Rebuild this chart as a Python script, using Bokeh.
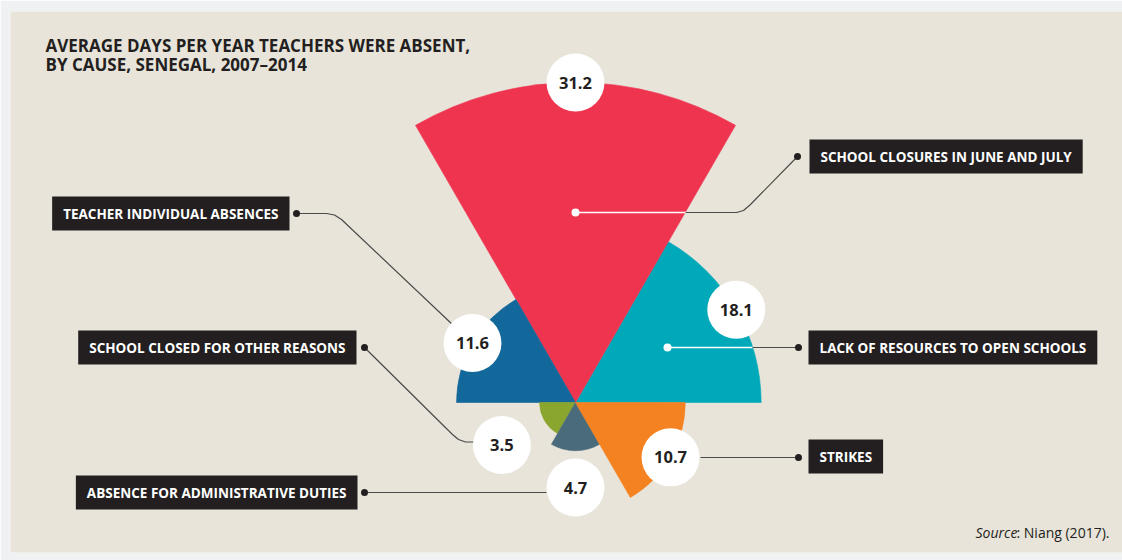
import math
from bokeh.plotting import figure
from bokeh.models import Range1d, Label, ColumnDataSource
from bokeh.embed import file_html
from bokeh.resources import INLINE
from bokeh.core.properties import value

# ---------------- data ----------------
categories = [
    "Lack of resources to open schools",
    "School closures in June and July",
    "Teacher individual absences",
    "School closed for other reasons",
    "Absence for administrative duties",
    "Strikes",
]
days = [18.1, 31.2, 11.6, 3.5, 4.7, 10.7]
value_labels = ["18.1", "31.2", "11.6", "3.5", "4.7", "10.7"]
colors = ["#00a9b9", "#ef3450", "#12679b", "#8ba62f", "#4a6b7b", "#f58220"]

title_lines = ["AVERAGE DAYS PER YEAR TEACHERS WERE ABSENT,", "BY CAUSE, SENEGAL, 2007–2014"]

# ---------------- layout ----------------
INK = "#231f20"
FONT = "Open Sans"
LEFT, RIGHT, TOP, BOT = 10, 1122, 11, 552


def Y(y):
    return BOT - y


p = figure(width=1122, height=560, x_range=Range1d(LEFT, RIGHT), y_range=Range1d(0, BOT - TOP),
           output_backend="svg", toolbar_location=None,
           x_axis_location=None, y_axis_location=None,
           min_border_left=LEFT, min_border_top=TOP, min_border_right=0, min_border_bottom=560 - BOT)
p.grid.visible = False
p.outline_line_color = None
p.background_fill_color = "#e8e4da"
p.border_fill_color = "#f0f1f3"

cx, cy = 575, Y(402)
scale = 320 / 31.2          # px per day
min_label_r = 85
n = len(days)
step = 2 * math.pi / n

src = ColumnDataSource(dict(
    r=[d * scale for d in days],
    a0=[i * step for i in range(n)],
    a1=[(i + 1) * step for i in range(n)],
    color=colors,
))
p.wedge(x=cx, y=cy, radius="r", start_angle="a0", end_angle="a1",
        fill_color="color", line_color="color", line_width=0.6, source=src)

# ---------------- leader lines ----------------
LINE = "#4a4a4a"
leaders = {
    "Teacher individual absences": [(296, 213), (326, 213), (334, 214.5), (341, 219), (453, 325)],
    "School closed for other reasons": [(364, 347), (452, 434), (458, 439), (465, 441.5), (477, 441.5)],
    "Absence for administrative duties": [(364, 492), (546, 492)],
    "School closures in June and July": [(797, 156), (750, 204), (743, 210), (736, 212), (575, 212)],
    "Lack of resources to open schools": [(798, 347), (667, 347)],
    "Strikes": [(798, 457), (700, 457)],
}
for cat, pts in leaders.items():
    p.line([q[0] for q in pts], [Y(q[1]) for q in pts], line_color=LINE, line_width=1.2)
    p.scatter([pts[0][0]], [Y(pts[0][1])], size=7, marker="circle", fill_color=INK, line_color=None)

# white portions inside wedges
inside = {
    "School closures in June and July": [(575, 212), (685, 212)],
    "Lack of resources to open schools": [(667, 347), (752, 347)],
}
for cat, pts in inside.items():
    p.line([q[0] for q in pts], [Y(q[1]) for q in pts], line_color="white", line_width=1.4)
    p.scatter([pts[0][0]], [Y(pts[0][1])], size=8, marker="circle", fill_color="white", line_color=None)

# ---------------- value bubbles ----------------
lx, ly = [], []
for i, d in enumerate(days):
    rr = max(d * scale, min_label_r)
    a = (i + 0.5) * step
    lx.append(cx + rr * math.cos(a))
    ly.append(cy + rr * math.sin(a))
vsrc = ColumnDataSource(dict(x=lx, y=ly, t=value_labels))
p.scatter("x", "y", size=58, marker="circle", fill_color="white", line_color=None, source=vsrc)
p.text("x", "y", text="t", text_align="center", text_baseline="middle",
       text_font=value(FONT), text_font_style="bold", text_font_size="16.5px",
       text_color=INK, source=vsrc)

# ---------------- category boxes ----------------
boxes = {
    "Teacher individual absences": ("right", 289, 213),
    "School closed for other reasons": ("right", 356, 347),
    "Absence for administrative duties": ("right", 357, 492),
    "School closures in June and July": ("left", 809, 156),
    "Lack of resources to open schools": ("left", 808, 347),
    "Strikes": ("left", 808, 456),
}
PADX, PADY = 11, 8
for cat in categories:
    side, ex, ey = boxes[cat]
    p.add_layout(Label(x=ex, y=Y(ey), text=cat.upper(), text_align=side, text_baseline="middle",
                       text_color="white", text_font=FONT, text_font_style="bold",
                       text_font_size="13.5px", background_fill_color=INK,
                       padding=dict(left=PADX, right=PADX, top=PADY, bottom=PADY)))

# ---------------- title & source ----------------
for t, yb in zip(title_lines, [45, 64]):
    p.add_layout(Label(x=45, y=Y(yb), text=t, text_align="left", text_baseline="alphabetic",
                       text_color=INK, text_font=FONT, text_font_style="bold", text_font_size="17px"))

p.add_layout(Label(x=975, y=Y(532), text="Source", text_align="left", text_baseline="alphabetic",
                   text_color=INK, text_font=FONT, text_font_style="italic", text_font_size="14px"))
p.add_layout(Label(x=1016, y=Y(532), text=": Niang (2017).", text_align="left", text_baseline="alphabetic",
                   text_color=INK, text_font=FONT, text_font_size="14px"))

open("out.html", "w").write(file_html(p, INLINE))
